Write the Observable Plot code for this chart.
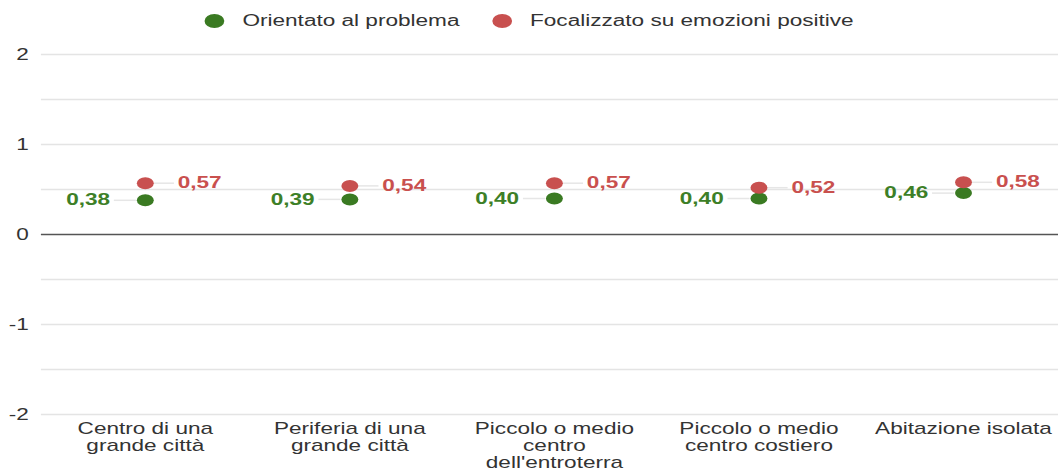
<!DOCTYPE html>
<html>
<head>
<meta charset="utf-8">
<script src="https://cdn.jsdelivr.net/npm/d3@7"></script>
<script src="https://cdn.jsdelivr.net/npm/@observablehq/plot@0.6"></script>
<style>
  html, body { margin: 0; padding: 0; background: #fff; overflow: hidden; }
  #wrap { width: 750px; transform: scaleX(1.4107); transform-origin: 0 0; font-family: "Liberation Sans", Arial, sans-serif; }
  #legend { height: 42px; display: flex; justify-content: center; align-items: center; gap: 0; font-size: 16px; color: #333; }
  .item { display: flex; align-items: center; }
  .sw { width: 14px; height: 14px; border-radius: 50%; display: inline-block; margin-right: 13px; }
  .item + .item { margin-left: 23px; }
</style>
</head>
<body>
<div id="wrap">
  <div id="legend"></div>
  <div id="chart"></div>
</div>
<script>
const categories = [
  "Centro di una grande città",
  "Periferia di una grande città",
  "Piccolo o medio centro dell'entroterra",
  "Piccolo o medio centro costiero",
  "Abitazione isolata"
];
const tickLabels = [
  "Centro di una\ngrande città",
  "Periferia di una\ngrande città",
  "Piccolo o medio\ncentro\ndell'entroterra",
  "Piccolo o medio\ncentro costiero",
  "Abitazione isolata"
];
const seriesNames = ["Orientato al problema", "Focalizzato su emozioni positive"];
const problemValues = [0.38, 0.39, 0.40, 0.40, 0.46];
const positiveValues = [0.57, 0.54, 0.57, 0.52, 0.58];
const yTicks = [-2, -1, 0, 1, 2];
const gridValues = [-2, -1.5, -1, -0.5, 0.5, 1, 1.5, 2];
const colors = ["#3a7a22", "#c8504f"];

const legend = document.getElementById("legend");
seriesNames.forEach((n, i) => {
  const it = document.createElement("div");
  it.className = "item";
  const sw = document.createElement("span");
  sw.className = "sw";
  sw.style.background = colors[i];
  const t = document.createElement("span");
  t.textContent = n;
  it.appendChild(sw); it.appendChild(t);
  legend.appendChild(it);
});

const green = categories.map((c, i) => ({cat: c, v: problemValues[i]}));
const red = categories.map((c, i) => ({cat: c, v: positiveValues[i]}));
const fmt = v => v.toFixed(2).replace(".", ",");
const labelOf = Object.fromEntries(categories.map((c, i) => [c, tickLabels[i]]));

const xRange = [29, 756];
const bw = (xRange[1] - xRange[0]) / categories.length;
const half = bw / 2;

const chart = Plot.plot({
  width: 750,
  height: 428,
  marginTop: 12,
  marginBottom: 56,
  marginLeft: 29,
  marginRight: 0,
  style: {fontFamily: "'Liberation Sans', Arial, sans-serif", fontSize: "16px", color: "#333", background: "#fff", overflow: "visible"},
  x: {type: "band", domain: categories, range: xRange, padding: 0, label: null},
  y: {domain: [-2, 2], label: null},
  marks: [
    Plot.ruleY(gridValues, {stroke: "#e4e4e4", strokeWidth: 1.5}),
    Plot.ruleY([0], {stroke: "#555", strokeWidth: 1.5}),
    Plot.axisY({ticks: yTicks, tickSize: 0, tickPadding: 9, fontSize: 16, fill: "#333", label: null, tickFormat: d => String(d)}),
    Plot.axisX({tickSize: 0, tickPadding: 7, fontSize: 16, fill: "#333", label: null, lineHeight: 1.08, tickFormat: d => labelOf[d]}),
    Plot.tickY(green, {x: "cat", y: "v", stroke: "#e6e6e6", strokeWidth: 1.5, insetLeft: half - 22, insetRight: half + 6}),
    Plot.tickY(red, {x: "cat", y: "v", stroke: "#e6e6e6", strokeWidth: 1.5, insetLeft: half + 6, insetRight: half - 21}),
    Plot.dot(green, {x: "cat", y: "v", r: 6, fill: colors[0]}),
    Plot.dot(red, {x: "cat", y: "v", r: 6, fill: colors[1]}),
    Plot.text(green, {x: "cat", y: "v", text: d => fmt(d.v), dx: -25, textAnchor: "end", fill: "#3d7f27", fontWeight: "bold", fontSize: 16}),
    Plot.text(red, {x: "cat", y: "v", text: d => fmt(d.v), dx: 23, textAnchor: "start", fill: "#c9504e", fontWeight: "bold", fontSize: 16})
  ]
});
document.getElementById("chart").appendChild(chart);
</script>
</body>
</html>
